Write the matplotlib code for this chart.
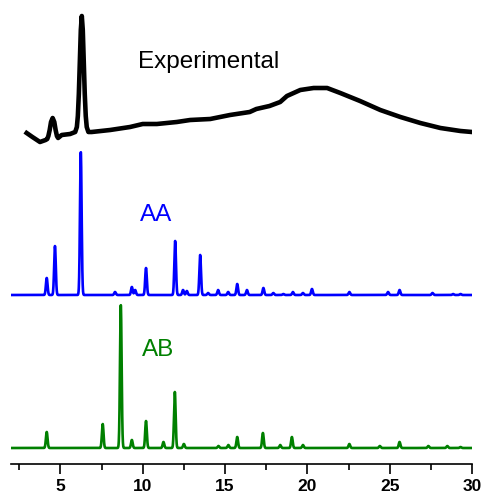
import numpy as np
import matplotlib
matplotlib.use("Agg")
import matplotlib.pyplot as plt

plt.rcParams['font.family'] = ['Liberation Sans', 'DejaVu Sans']

# experimental pattern (2theta, offset intensity)
exp_x = [2.95, 3.3, 3.76, 4.1, 4.2, 4.27, 4.35, 4.43, 4.53, 4.63, 4.71, 4.79, 4.86, 5.08,
         5.59, 5.9, 6.0, 6.06, 6.12, 6.18, 6.24, 6.3, 6.36, 6.42, 6.48, 6.54, 6.6, 6.7,
         6.9, 8.02, 9.23, 10.0, 10.86, 12.07, 12.88, 14.1, 15.3, 16.5, 16.9, 17.7,
         18.35, 18.76, 19.57, 20.38, 21.2, 22.0, 23.2, 24.43, 25.65, 26.86, 28.08,
         29.3, 30.0]
exp_y = [331, 327, 322, 324, 325, 328, 334, 342, 346, 342, 334, 328, 326, 329,
         330, 332, 337, 348, 370, 402, 434, 448, 434, 402, 370, 348, 337, 332,
         332, 334, 337, 340, 340, 342, 344, 345, 349, 352, 355, 358,
         362, 368, 374, 376, 376, 371, 363, 354, 347, 341, 336,
         333, 332]

# simulated AA peaks
aa_pos = [4.17, 4.67, 6.24, 8.32, 9.34, 9.54, 10.2, 11.97, 12.45, 12.68, 13.49, 13.97,
          14.58, 15.19, 15.74, 16.33, 17.33, 17.93, 18.54, 19.12, 19.73, 20.28, 22.55,
          24.9, 25.6, 27.6, 28.85, 29.3]
aa_int = [17, 49, 143, 3, 8, 5, 27, 54, 5, 4, 40, 2,
          5, 3, 11, 5, 7, 2, 1, 3, 2, 6, 3,
          3, 5, 2, 1, 1]
aa_base = 169

# simulated AB peaks
ab_pos = [4.17, 7.57, 8.67, 9.34, 10.2, 11.26, 11.95, 12.5, 14.6, 15.2, 15.74, 17.3,
          18.35, 19.06, 19.73, 22.55, 24.4, 25.6, 27.35, 28.5, 29.3]
ab_int = [16, 24, 143, 8, 27, 6, 56, 4, 2, 3, 11, 15,
          3, 11, 3, 4, 2, 6, 2, 2, 1]
ab_base = 16

labels = ['Experimental', 'AA', 'AB']
xticks = [5, 10, 15, 20, 25, 30]


def profile(x, pos, inten, base, w=0.05):
    y = np.full_like(x, base, dtype=float)
    for p, h in zip(pos, inten):
        y += h * np.exp(-0.5 * ((x - p) / w) ** 2)
    return y


x = np.linspace(2, 30, 4000)

fig = plt.figure(figsize=(4.86, 5.0), dpi=100)
ax = fig.add_axes([11 / 486, 0.072, 461 / 486, 0.928])

ax.plot(exp_x, exp_y, color='black', lw=3.3, solid_joinstyle='round')
ax.plot(x, profile(x, aa_pos, aa_int, aa_base), color='#0000ff', lw=1.9)
ax.plot(x, profile(x, ab_pos, ab_int, ab_base), color='#008000', lw=1.9)

ax.text(9.72, 402, labels[0], color='black', fontsize=17.5, va='center')
ax.text(9.84, 249, labels[1], color='#0000ff', fontsize=17.5, va='center')
ax.text(9.96, 114, labels[2], color='#008000', fontsize=17.5, va='center')

ax.set_xlim(2, 30)
ax.set_ylim(0, 464)
for s in ['left', 'right', 'top']:
    ax.spines[s].set_visible(False)
ax.spines['bottom'].set_linewidth(1.2)
ax.set_yticks([])
ax.set_xticks(xticks)
ax.set_xticks(np.arange(2.5, 30.1, 2.5), minor=True)
ax.tick_params(axis='x', which='major', direction='out', length=7, width=1.2,
               labelsize=12.5, pad=4)
ax.tick_params(axis='x', which='minor', direction='out', length=4, width=1.2)
for lab in ax.get_xticklabels():
    lab.set_fontweight('bold')

fig.savefig('out.png', dpi=100)
